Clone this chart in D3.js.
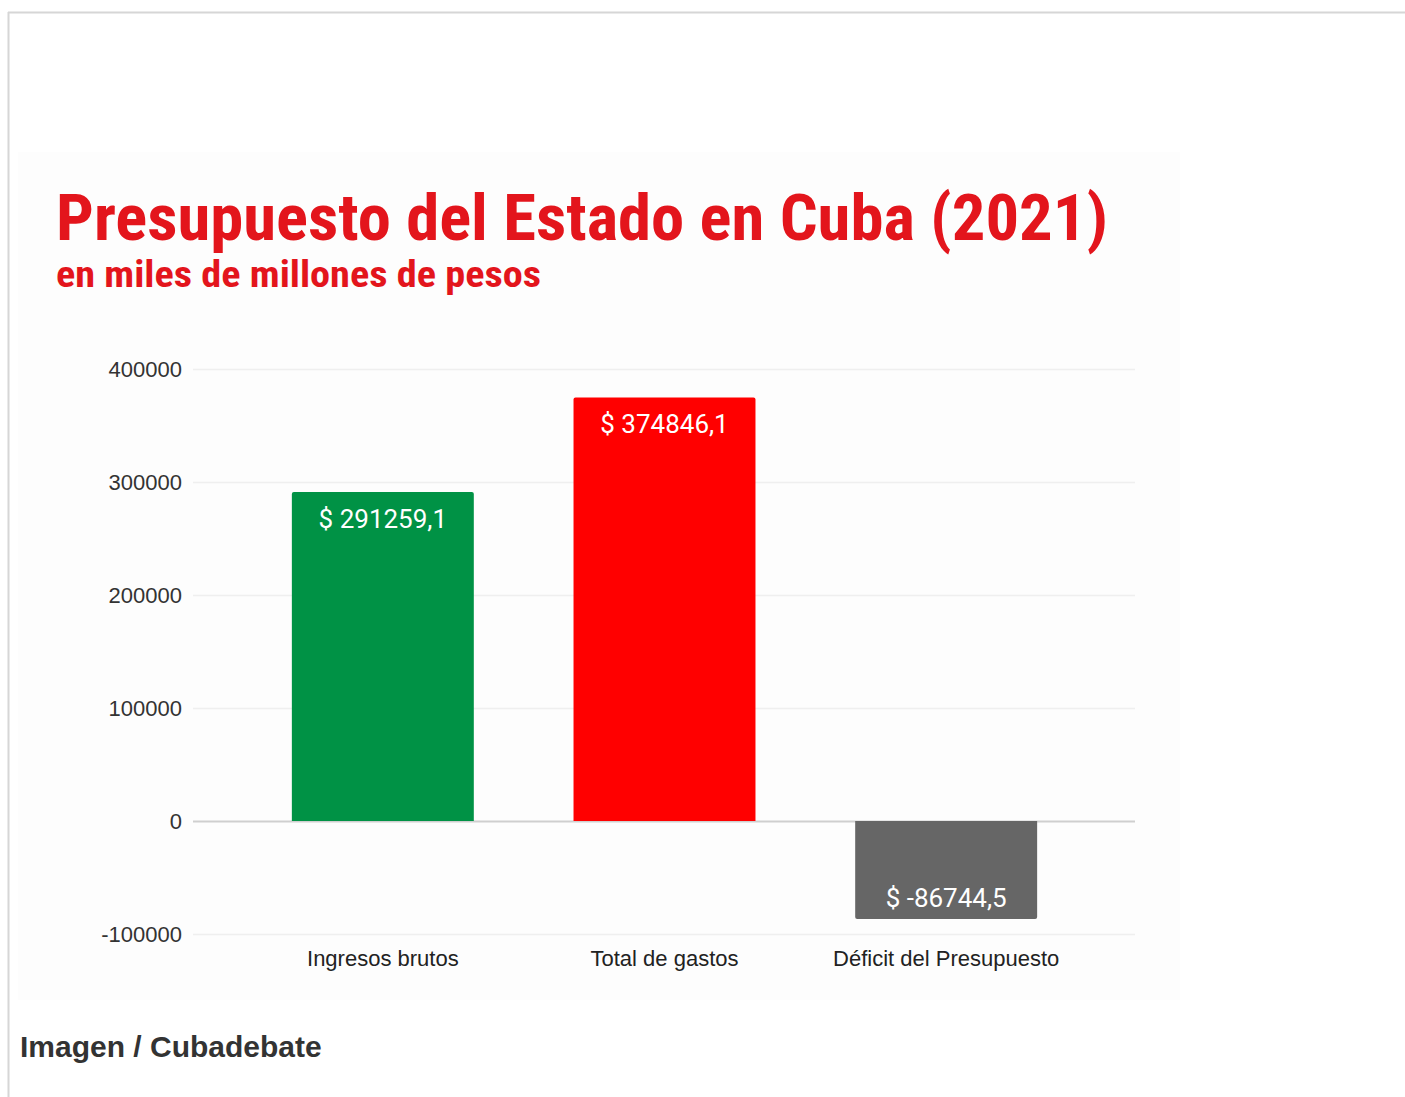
<!DOCTYPE html>
<html>
<head>
<meta charset="utf-8">
<script src="https://cdn.jsdelivr.net/npm/d3@7"></script>
<style>
body { margin: 0; background: #fff; }
svg { display: block; }
</style>
</head>
<body>
<script>
var categories = ['Ingresos brutos', 'Total de gastos', 'Déficit del Presupuesto'];
var values = [291259.1, 374846.1, -86744.5];
var labels = ['$ 291259,1', '$ 374846,1', '$ -86744,5'];
var bar_colors = ['#009245', '#ff0000', '#666666'];
var tick_values = [-100000, 0, 100000, 200000, 300000, 400000];

var width = 1405, height = 1097;

var svg = d3.select("body").append("svg")
	.attr("width", width)
	.attr("height", height);

// page frame
svg.append("line").attr("x1", 8).attr("x2", width).attr("y1", 12.5).attr("y2", 12.5)
	.style("stroke", "#d6d6d6").style("stroke-width", 2);
svg.append("line").attr("x1", 8.5).attr("x2", 8.5).attr("y1", 12).attr("y2", height)
	.style("stroke", "#d6d6d6").style("stroke-width", 2);

// image background
svg.append("rect").attr("x", 18).attr("y", 152).attr("width", 1162).attr("height", 848)
	.style("fill", "#fdfdfd");

svg.append("text")
	.attr("x", 56).attr("y", 240)
	.attr("textLength", 1052).attr("lengthAdjust", "spacingAndGlyphs")
	.style("font-family", "'Liberation Sans Narrow', 'Roboto Condensed', 'Liberation Sans', Arial, sans-serif")
	.style("font-weight", "bold").style("font-size", "64px")
	.style("fill", "#e3151c")
	.text('Presupuesto del Estado en Cuba (2021)');

svg.append("text")
	.attr("x", 56).attr("y", 287)
	.attr("textLength", 485).attr("lengthAdjust", "spacingAndGlyphs")
	.style("font-family", "'Liberation Sans Narrow', 'Roboto Condensed', 'Liberation Sans', Arial, sans-serif")
	.style("font-weight", "bold").style("font-size", "36px")
	.style("fill", "#e3151c")
	.text('en miles de millones de pesos');

var y = d3.scaleLinear().domain([-100000, 400000]).range([934, 369]);
var x = d3.scaleBand().domain(categories).range([242, 1087])
	.paddingInner(0.354).paddingOuter(0.177);

// grid
svg.selectAll(".grid")
	.data(tick_values)
	.enter()
	.append("line")
	.attr("class", "grid")
	.attr("x1", 193).attr("x2", 1135)
	.attr("y1", function(d) { return y(d) + 0.5 })
	.attr("y2", function(d) { return y(d) + 0.5 })
	.style("stroke", function(d) { return d == 0 ? '#cfcfcf' : '#efefef' })
	.style("stroke-width", function(d) { return d == 0 ? 2 : 1.5 });

var yAxis = svg.append("g")
	.attr("transform", "translate(182,0)")
	.call(d3.axisLeft(y).tickValues(tick_values).tickSize(0).tickFormat(function(d) { return String(d) }));
yAxis.select(".domain").remove();
yAxis.selectAll("text")
	.attr("x", 0).attr("dy", "0.35em")
	.style("font-family", "'Liberation Sans', Arial, sans-serif")
	.style("font-size", "22px").style("fill", "#333");

var xAxis = svg.append("g")
	.attr("transform", "translate(0,950)")
	.call(d3.axisBottom(x).tickSize(0));
xAxis.select(".domain").remove();
xAxis.selectAll("text")
	.attr("y", 0).attr("dy", "0.71em")
	.style("font-family", "'Liberation Sans', Arial, sans-serif")
	.style("font-size", "22px").style("fill", "#222");

// bars
svg.selectAll(".bar")
	.data(values)
	.enter()
	.append("path")
	.attr("class", "bar")
	.attr("d", function(d, i) {
		var x0 = x(categories[i]), w = x.bandwidth();
		var y0 = y(0), y1 = y(d), r = 2;
		if (d >= 0) {
			return "M" + x0 + "," + y0 + "V" + (y1 + r) + "Q" + x0 + "," + y1 + " " + (x0 + r) + "," + y1 +
				"H" + (x0 + w - r) + "Q" + (x0 + w) + "," + y1 + " " + (x0 + w) + "," + (y1 + r) + "V" + y0 + "Z";
		} else {
			return "M" + x0 + "," + y0 + "V" + (y1 - r) + "Q" + x0 + "," + y1 + " " + (x0 + r) + "," + y1 +
				"H" + (x0 + w - r) + "Q" + (x0 + w) + "," + y1 + " " + (x0 + w) + "," + (y1 - r) + "V" + y0 + "Z";
		}
	})
	.style("fill", function(d, i) { return bar_colors[i] });

svg.selectAll(".bar_text")
	.data(values)
	.enter()
	.append("text")
	.attr("class", "bar_text")
	.attr("text-anchor", "middle")
	.attr("x", function(d, i) { return x(categories[i]) + x.bandwidth() / 2 })
	.attr("y", function(d) { return d >= 0 ? y(d) + 36 : y(d) - 12 })
	.style("font-family", "Roboto, 'Liberation Sans', sans-serif")
	.style("font-size", "26px").style("fill", "#fff")
	.text(function(d, i) { return labels[i] });

svg.append("text")
	.attr("x", 20).attr("y", 1057)
	.style("font-family", "'Liberation Sans', Arial, sans-serif")
	.style("font-weight", "bold").style("font-size", "30px")
	.style("fill", "#333")
	.text('Imagen / Cubadebate');
</script>
</body>
</html>
